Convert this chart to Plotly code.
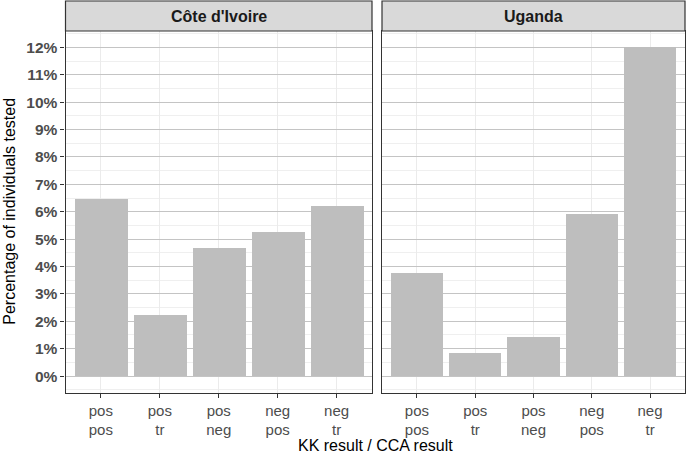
import plotly.graph_objects as go

categories = ["pos<br>pos", "pos<br>tr", "pos<br>neg", "neg<br>pos", "neg<br>tr"]
countries = ["Côte d'Ivoire", "Uganda"]
civ_values = [6.46, 2.24, 4.67, 5.25, 6.21]
uga_values = [3.75, 0.86, 1.44, 5.92, 12.01]
y_ticks = list(range(0, 13))
y_tick_labels = [f"{v}%" for v in y_ticks]

W, H = 690, 454
px = lambda x: x / W
py = lambda y: 1 - y / H

panel_x = [(65.5, 372), (382, 685)]
panel_top, panel_bottom = 31, 392.5
strip_top = 1
FONT = "Liberation Sans, Arial, sans-serif"

fig = go.Figure()
for i, vals in enumerate([civ_values, uga_values]):
    fig.add_trace(go.Bar(
        x=categories, y=vals, width=0.9,
        marker=dict(color="#BEBEBE", line=dict(width=0)),
        xaxis="x" if i == 0 else "x2", yaxis="y" if i == 0 else "y2",
        showlegend=False, hoverinfo="skip",
    ))

tickfont_y = dict(family=FONT, size=15.5, color="#4D4D4D", weight="bold")
tickfont_x = dict(family=FONT, size=15, color="#4D4D4D")

common_x = dict(
    type="category", range=[-0.6, 4.6], showgrid=True, gridcolor="#EBEBEB", gridwidth=1.2,
    showline=True, linecolor="#333333", linewidth=1.2, mirror=True,
    ticks="outside", ticklen=4, tickcolor="#333333", tickwidth=1.2,
    tickfont=tickfont_x, zeroline=False, automargin=False, fixedrange=True,
)
common_y = dict(
    range=[-0.6, 12.6], tickvals=y_ticks, ticktext=y_tick_labels,
    showgrid=True, gridcolor="#C4C4C4", gridwidth=1.2,
    minor=dict(dtick=0.5, showgrid=True, gridcolor="#EFEFEF", gridwidth=1),
    showline=True, linecolor="#333333", linewidth=1.2, mirror=True,
    ticks="outside", ticklen=4, tickcolor="#333333", tickwidth=1.2,
    zeroline=False, automargin=False, fixedrange=True,
    domain=[py(panel_bottom), py(panel_top)],
)

fig.update_layout(
    width=W, height=H, margin=dict(l=0, r=0, t=0, b=0),
    paper_bgcolor="white", plot_bgcolor="white", bargap=0,
    xaxis=dict(common_x, domain=[px(panel_x[0][0]), px(panel_x[0][1])], anchor="y"),
    xaxis2=dict(common_x, domain=[px(panel_x[1][0]), px(panel_x[1][1])], anchor="y2"),
    yaxis=dict(common_y, anchor="x", tickfont=tickfont_y),
    yaxis2=dict(common_y, anchor="x2", showticklabels=False, ticks=""),
)

shapes = []
annotations = []
for (x0, x1), name in zip(panel_x, countries):
    shapes.append(dict(type="rect", xref="paper", yref="paper",
                       x0=px(x0), x1=px(x1), y0=py(panel_top), y1=py(strip_top),
                       fillcolor="#D9D9D9", line=dict(color="#333333", width=1.2), layer="above"))
    annotations.append(dict(text=f"<b>{name}</b>", xref="paper", yref="paper",
                            x=px((x0 + x1) / 2), y=py((panel_top + strip_top) / 2),
                            xanchor="center", yanchor="middle", showarrow=False,
                            font=dict(family=FONT, size=16, color="#1A1A1A")))

annotations.append(dict(text="Percentage of individuals tested", xref="paper", yref="paper",
                        x=px(10), y=py((panel_top + panel_bottom) / 2), textangle=-90,
                        xanchor="center", yanchor="middle", showarrow=False,
                        font=dict(family=FONT, size=16, color="#000000")))
annotations.append(dict(text="KK result / CCA result", xref="paper", yref="paper",
                        x=px((panel_x[0][0] + panel_x[1][1]) / 2), y=py(445),
                        xanchor="center", yanchor="middle", showarrow=False,
                        font=dict(family=FONT, size=16, color="#000000")))

fig.update_layout(shapes=shapes, annotations=annotations)
fig.write_html("out.html", config={"displayModeBar": False},
               post_script="document.body.style.margin='0';document.body.style.overflow='hidden';")
